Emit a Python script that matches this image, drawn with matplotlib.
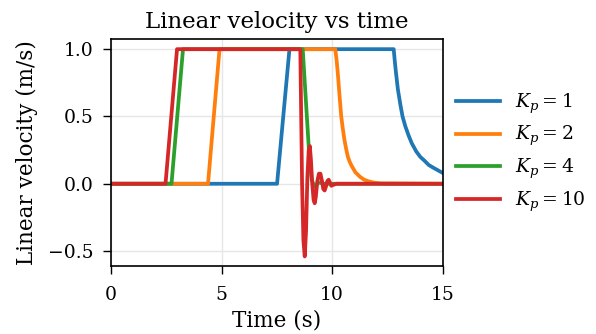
import matplotlib
matplotlib.use("Agg")
import matplotlib.pyplot as plt

plt.rcParams['font.family'] = ['DejaVu Serif']
plt.rcParams['mathtext.fontset'] = 'dejavuserif'

labels = [r'$K_p = 1$', r'$K_p = 2$', r'$K_p = 4$', r'$K_p = 10$']
colors = ['#1f77b4', '#ff7f0e', '#2ca02c', '#d62728']

t_kp1 = [0, 7.51, 8.07, 12.78, 12.83, 12.88, 12.97, 13.09, 13.18, 13.30, 13.45, 13.60,
         13.80, 13.98, 14.18, 14.36, 14.56, 14.78, 15.0]
v_kp1 = [0, 0, 1, 1, 0.91, 0.83, 0.70, 0.58, 0.50, 0.43, 0.36, 0.30,
         0.24, 0.20, 0.17, 0.14, 0.12, 0.10, 0.08]

t_kp2 = [0, 4.39, 4.91, 10.14, 10.20, 10.25, 10.33, 10.41, 10.48, 10.55, 10.63, 10.71,
         10.80, 10.89, 11.05, 11.27, 11.45, 11.65, 11.9, 12.2, 15]
v_kp2 = [0, 0, 1, 1, 0.92, 0.83, 0.66, 0.50, 0.41, 0.33, 0.26, 0.20,
         0.16, 0.13, 0.085, 0.05, 0.03, 0.018, 0.008, 0.003, 0]

t_kp4 = [0, 2.74, 3.26, 8.67, 8.80, 8.95, 9.07, 9.2, 9.4, 9.6, 15]
v_kp4 = [0, 0, 1, 1, 0.65, 0.25, 0.03, -0.02, 0.01, 0, 0]

t_kp10 = [0, 2.47, 2.99, 8.56, 8.60, 8.64, 8.70, 8.76, 8.82, 8.88, 8.94, 8.99, 9.04, 9.10,
          9.16, 9.21, 9.26, 9.33, 9.40, 9.47, 9.54, 9.60, 9.66, 9.72, 9.78, 9.84, 9.90,
          9.96, 10.02, 10.2, 15]
v_kp10 = [0, 0, 1, 1, 0.5, 0.0, -0.42, -0.54, -0.35, 0.05, 0.25, 0.28, 0.18, 0.0,
          -0.12, -0.145, -0.10, 0.02, 0.075, 0.075, 0.02, -0.04, -0.05, -0.02, 0.02, 0.03,
          0.01, -0.015, -0.01, 0, 0]

series_t = [t_kp1, t_kp2, t_kp4, t_kp10]
series_v = [v_kp1, v_kp2, v_kp4, v_kp10]

fig = plt.figure(figsize=(5.96, 3.34), dpi=100)
ax = fig.add_axes([0.186, 0.204, 0.557, 0.679])

for t, v, lab, c in zip(series_t, series_v, labels, colors):
    ax.plot(t, v, color=c, lw=2.7, label=lab, solid_joinstyle='round')

ax.set_xlim(0, 15)
ax.set_ylim(-0.61, 1.075)
ax.set_xticks([0, 5, 10, 15])
ax.set_yticks([-0.5, 0.0, 0.5, 1.0])
ax.grid(True, color='#e6e6e6', lw=1.0)
ax.set_axisbelow(True)
ax.tick_params(direction='out', length=5.8, width=1.0, labelsize=13.5)
ax.tick_params(axis='x', pad=9)
ax.tick_params(axis='y', pad=6.5)
for s in ax.spines.values():
    s.set_linewidth(1.2)

ax.set_title('Linear velocity vs time', fontsize=16.5, pad=8)
ax.set_xlabel('Time (s)', fontsize=15.5, labelpad=4)
ax.set_ylabel('Linear velocity (m/s)', fontsize=15.5, labelpad=7)

ax.legend(loc='center left', bbox_to_anchor=(0.99, 0.5), frameon=False, fontsize=13.5,
          handlelength=2.3, labelspacing=0.45, handletextpad=0.8)

fig.savefig('out.png', dpi=100)
